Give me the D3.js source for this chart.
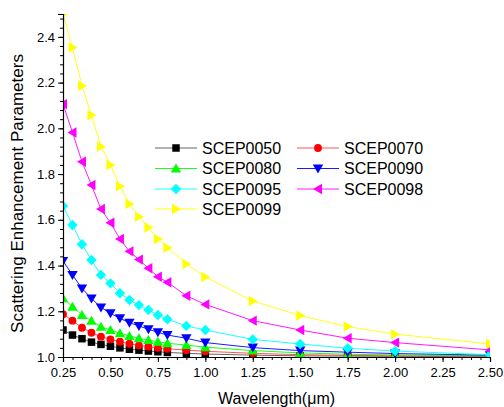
<!DOCTYPE html>
<html><head><meta charset="utf-8">
<script src="https://cdn.jsdelivr.net/npm/d3@7"></script>
<style>
body{margin:0;background:#fff;}
svg text{font-family:"Liberation Sans",Arial,sans-serif;fill:#000;}
</style></head>
<body><svg id="c" width="504" height="407"></svg>
<script>
const wavelength = [0.25,0.30,0.35,0.40,0.45,0.50,0.55,0.60,0.65,0.70,0.75,0.80,0.90,1.00,1.25,1.50,1.75,2.00,2.50];
const seriesNames = ["SCEP0050","SCEP0070","SCEP0080","SCEP0090","SCEP0095","SCEP0098","SCEP0099"];
const SCEP0050 = [1.118,1.096,1.080,1.065,1.055,1.047,1.040,1.034,1.030,1.026,1.023,1.020,1.016,1.013,1.008,1.005,1.004,1.003,1.001];
const SCEP0070 = [1.187,1.159,1.128,1.106,1.089,1.077,1.067,1.058,1.051,1.045,1.040,1.036,1.030,1.025,1.016,1.010,1.007,1.005,1.003];
const SCEP0080 = [1.257,1.220,1.184,1.159,1.132,1.118,1.104,1.092,1.082,1.074,1.067,1.060,1.052,1.043,1.028,1.018,1.012,1.009,1.005];
const SCEP0090 = [1.420,1.359,1.300,1.256,1.217,1.191,1.169,1.150,1.136,1.121,1.108,1.096,1.082,1.063,1.041,1.028,1.021,1.015,1.008];
const SCEP0095 = [1.660,1.577,1.493,1.424,1.359,1.322,1.279,1.249,1.227,1.206,1.184,1.165,1.136,1.118,1.077,1.057,1.038,1.026,1.010];
const SCEP0098 = [2.106,1.982,1.854,1.752,1.647,1.587,1.516,1.462,1.426,1.388,1.351,1.327,1.268,1.230,1.159,1.118,1.082,1.063,1.031];
const SCEP0099 = [2.500,2.353,2.186,2.057,1.920,1.840,1.747,1.669,1.613,1.566,1.516,1.478,1.407,1.350,1.245,1.181,1.133,1.100,1.057];
const xTicks = [0.25,0.50,0.75,1.00,1.25,1.50,1.75,2.00,2.25,2.50];
const yTicks = [1.0,1.2,1.4,1.6,1.8,2.0,2.2,2.4];
const xLabel = "Wavelength(\u03BCm)";
const yLabel = "Scattering Enhancement Parameters";

const seriesValues = [SCEP0050,SCEP0070,SCEP0080,SCEP0090,SCEP0095,SCEP0098,SCEP0099];
const colors = ["#000000","#ff0000","#00ff00","#0000ff","#00ffff","#ff00ff","#ffff00"];
const lineColors = ["#555555","#ff4040","#00ff00","#0000ff","#00ffff","#ff00ff","#ffff00"];
const shapes = ["square","circle","up","down","diamond","left","right"];

const svg = d3.select("#c");
const L=63,R=490,T=14,B=357;
const x = d3.scaleLinear().domain([0.25,2.5]).range([L,R]);
const y = d3.scaleLinear().domain([1.0,2.5]).range([B,T]);

function markerPath(shape){
  const s = 7.5;
  switch(shape){
    case "square": return `M${-s/2},${-s/2}h${s}v${s}h${-s}Z`;
    case "circle": return d3.symbol(d3.symbolCircle, 48)();
    case "diamond": return "M0,-5.2L5.2,0L0,5.2L-5.2,0Z";
    case "up": return "M0,-5L5.2,4L-5.2,4Z";
    case "down": return "M0,5L5.2,-4L-5.2,-4Z";
    case "left": return "M-5,0L4,-5.2L4,5.2Z";
    case "right": return "M5,0L-4,-5.2L-4,5.2Z";
  }
}

svg.append("defs").append("clipPath").attr("id","pc")
  .append("rect").attr("x",L).attr("y",T).attr("width",R-L).attr("height",B-T);

const plot = svg.append("g").attr("clip-path","url(#pc)");
const line = d3.line().x((d,i)=>x(wavelength[i])).y(d=>y(d));
seriesValues.forEach((vals,k)=>{
  plot.append("path").attr("d",line(vals)).attr("fill","none")
    .attr("stroke",lineColors[k]).attr("stroke-width",0.9);
});
seriesValues.forEach((vals,k)=>{
  plot.selectAll(null).data(vals).enter().append("path")
    .attr("d",markerPath(shapes[k]))
    .attr("transform",(d,i)=>`translate(${x(wavelength[i])},${y(d)})`)
    .attr("fill",colors[k]);
});

// axes
const xMinor = d3.range(0.25,2.5001,0.05);
const yMinor = d3.range(1.0,2.5001,0.04);
const xa = svg.append("g").attr("transform",`translate(0,${B})`);
xa.call(d3.axisBottom(x).tickValues(xTicks).tickFormat(d3.format(".2f")).tickSize(5).tickPadding(6));
xa.append("g").call(d3.axisBottom(x).tickValues(xMinor).tickFormat("").tickSize(3)).select(".domain").remove();
const ya = svg.append("g").attr("transform",`translate(${L},0)`);
ya.call(d3.axisLeft(y).tickValues(yTicks).tickFormat(d3.format(".1f")).tickSize(5).tickPadding(3));
ya.append("g").call(d3.axisLeft(y).tickValues(yMinor).tickFormat("").tickSize(3)).select(".domain").remove();
svg.selectAll(".domain").attr("stroke","#000").attr("stroke-width",1.2);
svg.selectAll(".tick line").attr("stroke","#000");
svg.selectAll(".tick text").attr("font-size",13).attr("font-family","Liberation Sans, Arial, sans-serif");

svg.append("text").attr("x",(L+R)/2).attr("y",404).attr("text-anchor","middle")
  .attr("font-size",16).text(xLabel);
svg.append("text").attr("transform",`translate(23,${(T+B)/2+8}) rotate(-90)`)
  .attr("text-anchor","middle").attr("font-size",17).text(yLabel);

// legend
const legCols=[{x0:155,x1:197,tx:202},{x0:297,x1:339,tx:344}];
const legRows=[148,168.5,189,209];
seriesNames.forEach((name,k)=>{
  const c=legCols[k%2], ry=legRows[Math.floor(k/2)];
  const g=svg.append("g");
  g.append("line").attr("x1",c.x0).attr("x2",c.x1).attr("y1",ry).attr("y2",ry)
    .attr("stroke",lineColors[k]).attr("stroke-width",0.9);
  g.append("path").attr("d",markerPath(shapes[k]))
    .attr("transform",`translate(${(c.x0+c.x1)/2},${ry})`).attr("fill",colors[k]);
  g.append("text").attr("x",c.tx).attr("y",ry+5.5).attr("font-size",16).text(name);
});
</script></body></html>
